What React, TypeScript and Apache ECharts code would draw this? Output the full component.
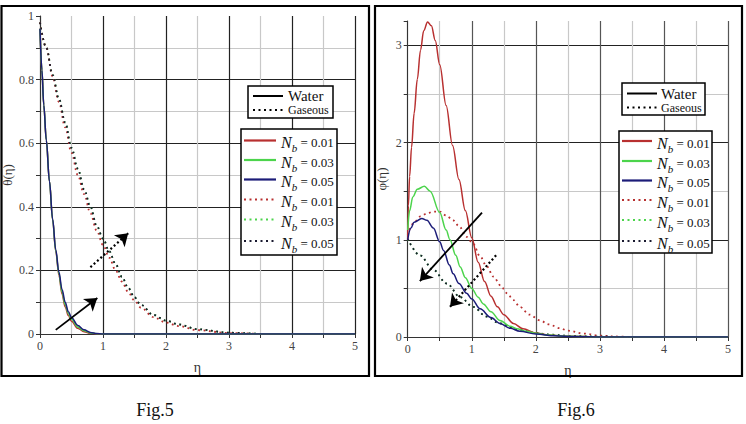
import React, { useEffect, useRef } from 'react';
import * as echarts from 'echarts';

// ---------- Fig.5 : theta(eta) ----------
const t_eta_ws = [0, 0.03, 0.06, 0.1, 0.15, 0.2, 0.25, 0.3, 0.35, 0.4, 0.45, 0.5, 0.6, 0.7, 0.8, 0.9, 1.0, 5];
const t_water_01 = [0.96, 0.83, 0.72, 0.61, 0.48, 0.36, 0.26, 0.185, 0.125, 0.085, 0.058, 0.04, 0.018, 0.007, 0.002, 0.0005, 0, 0];
const t_water_03 = [0.96, 0.83, 0.72, 0.61, 0.48, 0.36, 0.262, 0.19, 0.132, 0.092, 0.064, 0.046, 0.022, 0.01, 0.0035, 0.001, 0, 0];
const t_water_05 = [0.96, 0.83, 0.72, 0.61, 0.48, 0.362, 0.265, 0.195, 0.14, 0.1, 0.07, 0.052, 0.027, 0.013, 0.005, 0.0015, 0, 0];

const t_eta_gs = [0, 0.1, 0.2, 0.3, 0.4, 0.5, 0.6, 0.7, 0.8, 0.9, 1.0, 1.1, 1.2, 1.3, 1.4, 1.5, 1.6, 1.8, 2.0, 2.2, 2.5, 3.0, 3.5];
const t_gas_01 = [0.98, 0.9, 0.81, 0.73, 0.65, 0.57, 0.5, 0.44, 0.38, 0.325, 0.28, 0.24, 0.2, 0.165, 0.132, 0.105, 0.083, 0.053, 0.036, 0.025, 0.012, 0.003, 0];
// Nb = 0.03 gaseous curve is hidden under the Nb = 0.05 curve in the figure
const t_gas_03 = [0.98, 0.9, 0.815, 0.74, 0.665, 0.585, 0.52, 0.455, 0.4, 0.34, 0.3, 0.26, 0.22, 0.18, 0.145, 0.115, 0.092, 0.06, 0.042, 0.03, 0.015, 0.004, 0];
const t_gas_05 = [0.98, 0.9, 0.815, 0.74, 0.665, 0.585, 0.52, 0.455, 0.4, 0.34, 0.3, 0.26, 0.22, 0.18, 0.145, 0.115, 0.092, 0.06, 0.042, 0.03, 0.015, 0.004, 0];

// ---------- Fig.6 : phi(eta) ----------
const p_eta_w01 = [0, 0.01, 0.03, 0.06, 0.1, 0.15, 0.2, 0.25, 0.31, 0.37, 0.43, 0.5, 0.6, 0.7, 0.8, 0.9, 1.0, 1.1, 1.2, 1.3, 1.4, 1.5, 1.65, 1.8, 2.0, 2.2, 2.5, 3.0, 5];
const p_water_01 = [1.0, 1.35, 1.65, 1.95, 2.3, 2.65, 2.95, 3.15, 3.24, 3.2, 3.05, 2.8, 2.38, 1.97, 1.62, 1.3, 1.02, 0.77, 0.57, 0.42, 0.31, 0.23, 0.14, 0.085, 0.04, 0.02, 0.007, 0.001, 0];
const p_eta_w03 = [0, 0.03, 0.08, 0.15, 0.26, 0.35, 0.5, 0.6, 0.66, 0.75, 0.82, 0.9, 1.0, 1.1, 1.18, 1.3, 1.44, 1.6, 1.7, 1.85, 2.0, 2.2, 2.5, 3.0, 5];
const p_water_03 = [1.1, 1.3, 1.44, 1.52, 1.55, 1.5, 1.28, 1.1, 1.0, 0.84, 0.72, 0.61, 0.5, 0.41, 0.34, 0.26, 0.17, 0.11, 0.085, 0.058, 0.038, 0.02, 0.007, 0.001, 0];
const p_eta_w05 = [0, 0.05, 0.1, 0.22, 0.3, 0.4, 0.5, 0.56, 0.65, 0.71, 0.8, 0.92, 1.0, 1.13, 1.3, 1.44, 1.6, 1.75, 2.0, 2.3, 2.6, 3.0, 5];
const p_water_05 = [1.0, 1.12, 1.18, 1.22, 1.2, 1.12, 0.98, 0.89, 0.74, 0.65, 0.55, 0.45, 0.39, 0.29, 0.2, 0.14, 0.09, 0.06, 0.03, 0.012, 0.004, 0.001, 0];

const p_eta_g01 = [0, 0.09, 0.2, 0.3, 0.4, 0.5, 0.6, 0.71, 0.8, 0.92, 1.02, 1.13, 1.23, 1.34, 1.45, 1.55, 1.65, 1.75, 1.9, 2.07, 2.2, 2.38, 2.5, 2.75, 3.0, 3.25, 3.5];
const p_gas_01 = [1.05, 1.17, 1.24, 1.27, 1.29, 1.29, 1.25, 1.2, 1.14, 1.03, 0.96, 0.83, 0.73, 0.62, 0.53, 0.45, 0.38, 0.31, 0.23, 0.17, 0.13, 0.09, 0.065, 0.035, 0.015, 0.005, 0];
const p_eta_g05 = [0, 0.19, 0.4, 0.61, 0.82, 1.02, 1.23, 1.44, 1.7, 1.96, 2.2, 2.5, 3.0, 3.5];
// Nb = 0.03 gaseous curve is hidden under the Nb = 0.05 curve in the figure
const p_gas_03 = [1.01, 0.84, 0.69, 0.55, 0.41, 0.31, 0.21, 0.14, 0.08, 0.045, 0.025, 0.012, 0.003, 0];
const p_gas_05 = [1.01, 0.84, 0.69, 0.55, 0.41, 0.31, 0.21, 0.14, 0.08, 0.045, 0.025, 0.012, 0.003, 0];

// ---------- arrows (data coordinates) ----------
const arrow5_water = [[0.25, 0.013], [0.91, 0.113]];
const arrow5_gas = [[0.8, 0.21], [1.4, 0.317]];
const arrow6_water = [[1.16, 1.28], [0.19, 0.575]];
const arrow6_gas = [[1.38, 0.84], [0.66, 0.31]];

// ---------- labels ----------
const nbValues = ['0.01', '0.03', '0.05', '0.01', '0.03', '0.05'];
const nbColors = ['#b83030', '#4cd44c', '#1c1c78', '#b83030', '#4cd44c', '#1a1a30'];
const nbDotted = [false, false, false, true, true, true];
const captions = ['Fig.5', 'Fig.6'];

const RED = '#b83030';
const GREEN = '#4cd44c';
const BLUE = '#1c1c78';
const DARK = '#1a1a30';
const SERIF = '"Liberation Serif", "Times New Roman", "DejaVu Serif", serif';

const pairs = (xs: number[], ys: number[]) => xs.map((x, i) => [x, ys[i]]);

function curve(name: string, xs: number[], ys: number[], color: string, dotted: boolean, g: number) {
  return {
    type: 'line',
    name,
    xAxisIndex: g,
    yAxisIndex: g,
    data: pairs(xs, ys),
    showSymbol: false,
    symbol: 'none',
    smooth: 0.35,
    smoothMonotone: 'x',
    silent: true,
    lineStyle: dotted
      ? { color, width: 1.8, type: [1.8, 3.6], cap: 'butt' }
      : { color, width: 1.5, type: 'solid' },
  };
}

function arrow(coords: number[][], dotted: boolean, g: number) {
  return {
    type: 'lines',
    coordinateSystem: 'cartesian2d',
    xAxisIndex: g,
    yAxisIndex: g,
    symbol: ['none', 'arrow'],
    symbolSize: 12,
    silent: true,
    z: 5,
    lineStyle: dotted
      ? { color: '#000', width: 2.2, type: [2, 2.5], opacity: 1, curveness: 0 }
      : { color: '#000', width: 1.8, type: 'solid', opacity: 1, curveness: 0 },
    data: [{ coords }],
  };
}

function xAxis(g: number, majorColor: string) {
  return {
    type: 'value',
    gridIndex: g,
    min: 0,
    max: 5,
    interval: 0.5,
    name: 'η',
    nameLocation: 'middle',
    nameGap: 26,
    nameTextStyle: { fontFamily: SERIF, fontSize: 14, color: '#333' },
    axisLine: { show: true, onZero: false, lineStyle: { color: '#333', width: 1 } },
    axisTick: { show: true, length: 4, lineStyle: { color: '#333' } },
    axisLabel: {
      interval: 0,
      margin: 6,
      fontFamily: SERIF,
      fontSize: 12,
      color: '#444',
      formatter: (v: number) => (Math.abs(v - Math.round(v)) < 1e-6 ? String(Math.round(v)) : ''),
    },
    splitLine: { show: true, lineStyle: { color: [majorColor, '#c8c8c8'], width: 1.2 } },
  };
}

function legendGraphics(
  wb: { x: number; y: number; w: number; h: number; lx1: number; lx2: number; tx: number; r1: number; r2: number },
  nb: { x: number; y: number; w: number; h: number; lx1: number; lx2: number; tx: number; rows: number[] }
) {
  const els: any[] = [];
  els.push({ type: 'rect', shape: { x: wb.x, y: wb.y, width: wb.w, height: wb.h }, style: { fill: '#fff', stroke: '#000', lineWidth: 1.5 }, z: 10 });
  els.push({ type: 'line', shape: { x1: wb.lx1, y1: wb.r1, x2: wb.lx2, y2: wb.r1 }, style: { stroke: '#000', lineWidth: 2 }, z: 11 });
  els.push({ type: 'line', shape: { x1: wb.lx1, y1: wb.r2, x2: wb.lx2, y2: wb.r2 }, style: { stroke: '#000', lineWidth: 2, lineDash: [2, 3.5] }, z: 11 });
  els.push({ type: 'text', x: wb.tx, y: wb.r1, style: { text: 'Water', fontFamily: SERIF, fontSize: 15, fill: '#111', verticalAlign: 'middle' }, z: 11 });
  els.push({ type: 'text', x: wb.tx, y: wb.r2, style: { text: 'Gaseous', fontFamily: SERIF, fontSize: 12, fill: '#111', verticalAlign: 'middle' }, z: 11 });
  els.push({ type: 'rect', shape: { x: nb.x, y: nb.y, width: nb.w, height: nb.h }, style: { fill: '#fff', stroke: '#000', lineWidth: 1.5 }, z: 10 });
  nb.rows.forEach((ry, i) => {
    els.push({
      type: 'line',
      shape: { x1: nb.lx1, y1: ry, x2: nb.lx2, y2: ry },
      style: nbDotted[i]
        ? { stroke: nbColors[i], lineWidth: 2, lineDash: [2, 3.5] }
        : { stroke: nbColors[i], lineWidth: 2.2 },
      z: 11,
    });
    els.push({
      type: 'text',
      x: nb.tx,
      y: ry + 2,
      style: {
        text: '{n|N}{b|b}{v| = ' + nbValues[i] + '}',
        verticalAlign: 'middle',
        rich: {
          n: { fontFamily: SERIF, fontSize: 16, fontStyle: 'italic', fill: '#111' },
          b: { fontFamily: SERIF, fontSize: 11, fontStyle: 'italic', fill: '#111', padding: [11, 0, 0, 0] },
          v: { fontFamily: SERIF, fontSize: 13, fill: '#111' },
        },
      },
      z: 11,
    });
  });
  return els;
}

export default function App() {
  const ref = useRef<HTMLDivElement>(null);
  useEffect(() => {
    if (!ref.current) return;
    const chart = echarts.init(ref.current, undefined, { renderer: 'svg' });
    const option: any = {
      animation: false,
      backgroundColor: '#fff',
      grid: [
        { left: 39.5, top: 16, width: 315.5, height: 318 },
        { left: 407.7, top: 21, width: 320.3, height: 316 },
      ],
      xAxis: [xAxis(0, '#222'), xAxis(1, '#555')],
      yAxis: [
        {
          type: 'value',
          gridIndex: 0,
          min: 0,
          max: 1,
          interval: 0.1,
          name: 'θ(η)',
          nameLocation: 'middle',
          nameGap: 26,
          nameTextStyle: { fontFamily: SERIF, fontSize: 13, color: '#333' },
          axisLine: { show: true, onZero: false, lineStyle: { color: '#333', width: 1 } },
          axisTick: { show: true, length: 4, lineStyle: { color: '#333' } },
          axisLabel: {
            interval: 0,
            margin: 6,
            fontFamily: SERIF,
            fontSize: 12,
            color: '#444',
            showMaxLabel: true,
            formatter: (v: number) => {
              const k = Math.round(v * 10);
              if (k % 2 !== 0) return '';
              if (k === 0) return '0';
              if (k === 10) return '1';
              return (k / 10).toFixed(1);
            },
          },
          splitLine: { show: true, showMaxLine: false, lineStyle: { color: ['#222', '#c8c8c8'], width: 1.2 } },
        },
        {
          type: 'value',
          gridIndex: 1,
          min: 0,
          max: 3.25,
          interval: 0.5,
          name: 'φ(η)',
          nameLocation: 'middle',
          nameGap: 20,
          nameTextStyle: { fontFamily: SERIF, fontSize: 13, color: '#333' },
          axisLine: { show: true, onZero: false, lineStyle: { color: '#333', width: 1 } },
          axisTick: { show: true, length: 4, lineStyle: { color: '#333' } },
          axisLabel: {
            interval: 0,
            margin: 6,
            fontFamily: SERIF,
            fontSize: 12,
            color: '#444',
            formatter: (v: number) => (Math.abs(v - Math.round(v)) < 1e-6 ? String(Math.round(v)) : ''),
          },
          splitLine: { show: true, showMaxLine: false, lineStyle: { color: ['#222', '#c8c8c8'], width: 1.2 } },
        },
      ],
      series: [
        curve('Gaseous Nb = 0.03', t_eta_gs, t_gas_03, GREEN, true, 0),
        curve('Gaseous Nb = 0.01', t_eta_gs, t_gas_01, RED, true, 0),
        curve('Gaseous Nb = 0.05', t_eta_gs, t_gas_05, DARK, true, 0),
        curve('Water Nb = 0.01', t_eta_ws, t_water_01, RED, false, 0),
        curve('Water Nb = 0.03', t_eta_ws, t_water_03, GREEN, false, 0),
        curve('Water Nb = 0.05', t_eta_ws, t_water_05, BLUE, false, 0),
        arrow(arrow5_water, false, 0),
        arrow(arrow5_gas, true, 0),

        curve('Gaseous Nb = 0.03 ', p_eta_g05, p_gas_03, GREEN, true, 1),
        curve('Gaseous Nb = 0.01 ', p_eta_g01, p_gas_01, RED, true, 1),
        curve('Gaseous Nb = 0.05 ', p_eta_g05, p_gas_05, DARK, true, 1),
        curve('Water Nb = 0.01 ', p_eta_w01, p_water_01, RED, false, 1),
        curve('Water Nb = 0.03 ', p_eta_w03, p_water_03, GREEN, false, 1),
        curve('Water Nb = 0.05 ', p_eta_w05, p_water_05, BLUE, false, 1),
        arrow(arrow6_water, false, 1),
        arrow(arrow6_gas, true, 1),
      ],
      graphic: [
        { type: 'rect', shape: { x: 1.5, y: 6, width: 367.5, height: 370 }, style: { fill: 'none', stroke: '#000', lineWidth: 2.2 }, z: 20 },
        { type: 'rect', shape: { x: 375, y: 6, width: 367, height: 370 }, style: { fill: 'none', stroke: '#000', lineWidth: 2.2 }, z: 20 },
        ...legendGraphics(
          { x: 248, y: 86, w: 85, h: 32, lx1: 253, lx2: 283, tx: 288, r1: 96, r2: 110 },
          { x: 241, y: 129, w: 96, h: 126, lx1: 244, lx2: 276, tx: 281, rows: [140.5, 160, 179.5, 199.5, 219.5, 241] }
        ),
        ...legendGraphics(
          { x: 622, y: 83, w: 83, h: 32, lx1: 627, lx2: 657, tx: 661, r1: 93.5, r2: 107.5 },
          { x: 619, y: 131, w: 93, h: 122, lx1: 622, lx2: 652, tx: 657, rows: [141, 161, 180.5, 200, 220, 241] }
        ),
        { type: 'text', x: 155, y: 410, style: { text: captions[0], fontFamily: SERIF, fontSize: 18, fill: '#111', align: 'center', verticalAlign: 'middle' } },
        { type: 'text', x: 576, y: 410, style: { text: captions[1], fontFamily: SERIF, fontSize: 18, fill: '#111', align: 'center', verticalAlign: 'middle' } },
      ],
    };
    chart.setOption(option);
    return () => chart.dispose();
  }, []);
  return (
    <div
      ref={ref}
      style={{ position: 'fixed', left: 0, top: 0, width: 746, height: 424, background: '#fff' }}
    />
  );
}
